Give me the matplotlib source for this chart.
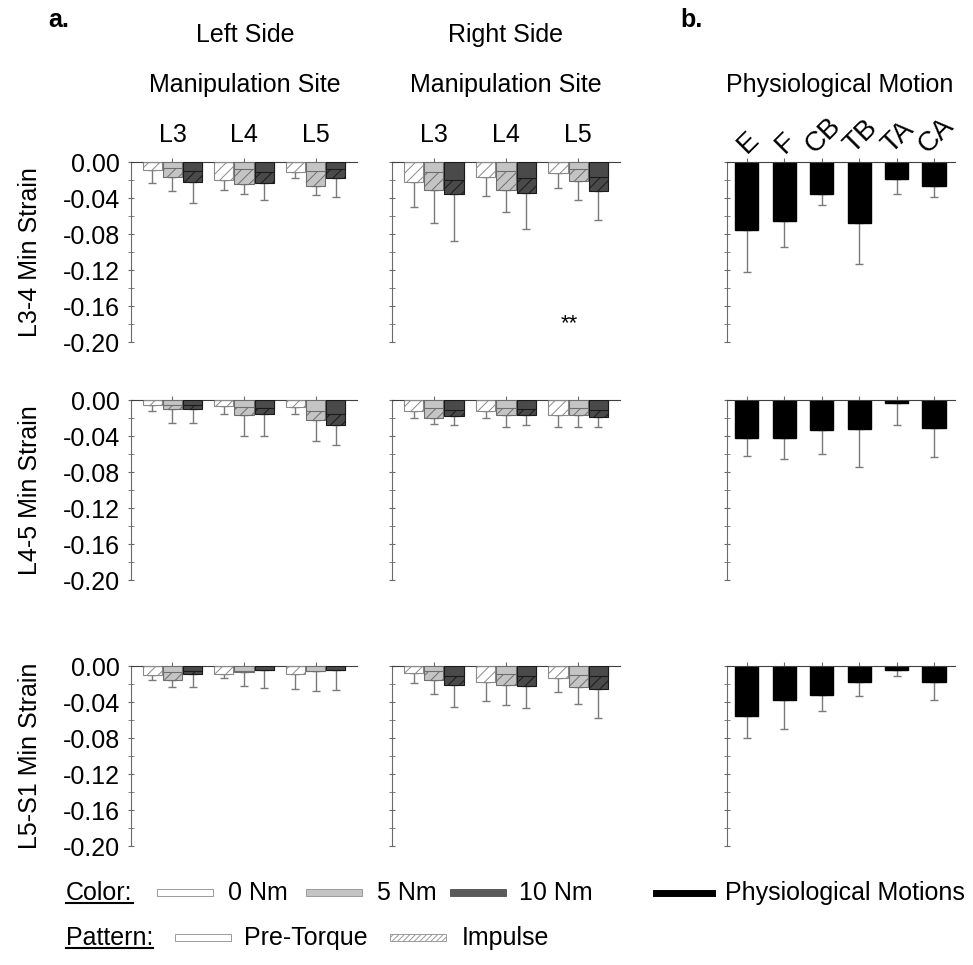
import numpy as np
import matplotlib.pyplot as plt
from matplotlib.patches import Rectangle
from matplotlib.lines import Line2D
from matplotlib.transforms import blended_transform_factory

plt.rcParams['font.family'] = ['Liberation Sans', 'DejaVu Sans']
plt.rcParams['hatch.linewidth'] = 0.7

sites = ['L3', 'L4', 'L5']
torques = ['0 Nm', '5 Nm', '10 Nm']
motions = ['E', 'F', 'CB', 'TB', 'TA', 'CA']
rows = ['L3-4 Min Strain', 'L4-5 Min Strain', 'L5-S1 Min Strain']

# impulse mean / sd / pre-torque mean, [row][site][torque]
imp_left = [
    [[-0.009, -0.017, -0.022], [-0.020, -0.024, -0.023], [-0.011, -0.027, -0.018]],
    [[-0.005, -0.010, -0.010], [-0.007, -0.017, -0.016], [-0.008, -0.022, -0.028]],
    [[-0.010, -0.016, -0.009], [-0.009, -0.007, -0.004], [-0.009, -0.006, -0.004]],
]
sd_left = [
    [[0.014, 0.015, 0.023], [0.011, 0.011, 0.019], [0.007, 0.010, 0.021]],
    [[0.007, 0.015, 0.015], [0.008, 0.023, 0.024], [0.007, 0.023, 0.022]],
    [[0.005, 0.007, 0.014], [0.004, 0.015, 0.020], [0.016, 0.022, 0.023]],
]
pre_left = [
    [[0.0, -0.007, -0.010], [0.0, -0.008, -0.011], [0.0, -0.010, -0.008]],
    [[0.0, -0.005, -0.006], [0.0, -0.008, -0.009], [0.0, -0.012, -0.015]],
    [[0.0, -0.007, -0.006], [0.0, -0.005, -0.004], [0.0, -0.006, -0.004]],
]
imp_right = [
    [[-0.022, -0.031, -0.036], [-0.017, -0.031, -0.034], [-0.012, -0.021, -0.032]],
    [[-0.012, -0.020, -0.018], [-0.012, -0.017, -0.017], [-0.017, -0.017, -0.019]],
    [[-0.008, -0.015, -0.021], [-0.018, -0.021, -0.022], [-0.013, -0.023, -0.025]],
]
sd_right = [
    [[0.028, 0.037, 0.052], [0.021, 0.024, 0.040], [0.017, 0.021, 0.032]],
    [[0.008, 0.007, 0.010], [0.008, 0.013, 0.011], [0.013, 0.013, 0.011]],
    [[0.011, 0.016, 0.024], [0.021, 0.022, 0.025], [0.016, 0.019, 0.033]],
]
pre_right = [
    [[0.0, -0.011, -0.020], [0.0, -0.010, -0.018], [0.0, -0.008, -0.017]],
    [[0.0, -0.009, -0.011], [0.0, -0.009, -0.010], [0.0, -0.009, -0.011]],
    [[0.0, -0.005, -0.011], [0.0, -0.009, -0.011], [0.0, -0.010, -0.011]],
]
phys_mean = [
    [-0.076, -0.065, -0.035, -0.068, -0.019, -0.027],
    [-0.042, -0.042, -0.033, -0.032, -0.003, -0.031],
    [-0.056, -0.038, -0.032, -0.018, -0.004, -0.018],
]
phys_sd = [
    [0.046, 0.029, 0.013, 0.045, 0.016, 0.012],
    [0.020, 0.024, 0.027, 0.042, 0.025, 0.032],
    [0.024, 0.032, 0.018, 0.015, 0.007, 0.020],
]

fills = ['white', '#c4c4c4', '#4a4a4a']
hatch_cols = ['#8a8a8a', '#6e6e6e', '#1a1a1a']
axc = '#6a6a6a'
errc = '#7a7a7a'

W, H = 973, 965
fig = plt.figure(figsize=(9.73, 9.65), dpi=100)


def px(x, y):
    return x / W, 1 - y / H


row_tops = [162, 400, 666]
row_h = 180
cols = [(131, 226), (392, 228), (727, 228)]
FS = 18


def style_axes(ax, labels):
    ax.set_ylim(-0.2, 0)
    ax.spines['right'].set_visible(False)
    ax.spines['bottom'].set_visible(False)
    ax.spines['left'].set_color(axc)
    ax.spines['top'].set_color('#404040')
    ax.xaxis.tick_top()
    ax.tick_params(axis='x', direction='out', length=3, color=axc, labeltop=False)
    ax.set_yticks(np.arange(-0.20, 0.001, 0.04))
    ax.set_yticks(np.arange(-0.20, 0.001, 0.02), minor=True)
    ax.tick_params(axis='y', which='both', direction='inout', length=4, color=axc,
                   labelsize=FS, labelleft=labels, pad=6)
    if labels:
        ax.set_yticklabels(['%.2f' % v for v in np.arange(-0.20, 0.001, 0.04)])


bw = 0.28
for r in range(3):
    for s in range(2):
        x0, w = cols[s]
        l, b = px(x0, row_tops[r] + row_h)
        ax = fig.add_axes([l, b, w / W, row_h / H])
        imp = imp_left[r] if s == 0 else imp_right[r]
        sd = sd_left[r] if s == 0 else sd_right[r]
        pre = pre_left[r] if s == 0 else pre_right[r]
        x = np.arange(len(sites))
        for t in range(3):
            xs = x + (t - 1) * bw
            vals = [imp[i][t] for i in range(3)]
            errs = [sd[i][t] for i in range(3)]
            pv = [pre[i][t] for i in range(3)]
            ax.errorbar(xs, vals, yerr=[errs, np.zeros(3)], fmt='none', ecolor=errc,
                        elinewidth=1, capsize=3, capthick=1, zorder=1)
            ax.bar(xs, vals, width=bw * 0.95, color=fills[t], edgecolor=hatch_cols[t],
                   hatch='///', linewidth=0.8, zorder=2)
            ax.bar(xs, pv, width=bw * 0.95, color=fills[t], edgecolor=hatch_cols[t],
                   linewidth=0.8, zorder=3)
        ax.set_xticks(x)
        ax.set_xlim(-0.58, 2.58)
        style_axes(ax, s == 0)
        if r == 0:
            tr = blended_transform_factory(ax.transData, ax.transAxes)
            for i, name in enumerate(sites):
                ax.text(i, 1.15, name, transform=tr, ha='center', va='center', fontsize=FS)
            if s == 1:
                ax.text(1.88, -0.18, '**', ha='center', va='center', fontsize=16)

    x0, w = cols[2]
    l, b = px(x0, row_tops[r] + row_h)
    ax = fig.add_axes([l, b, w / W, row_h / H])
    x = np.arange(len(motions))
    ax.errorbar(x, phys_mean[r], yerr=[phys_sd[r], np.zeros(6)], fmt='none', ecolor=errc,
                elinewidth=1, capsize=3, capthick=1, zorder=1)
    ax.bar(x, phys_mean[r], width=0.62, color='black', edgecolor='black', zorder=2)
    ax.set_xticks(x)
    ax.set_xlim(-0.53, 5.56)
    style_axes(ax, False)
    if r == 0:
        tr = blended_transform_factory(ax.transData, ax.transAxes)
        for i, name in enumerate(motions):
            ax.text(i + 0.05, 1.02, name, transform=tr, ha='center', va='bottom',
                    rotation=45, fontsize=20)

    fig.text(*px(30, row_tops[r] + row_h / 2), rows[r], rotation=90, ha='center',
             va='center', fontsize=FS)

# headers
fig.text(*px(48, 20), 'a.', fontsize=FS, fontweight='bold', ha='left', va='center')
fig.text(*px(680, 20), 'b.', fontsize=FS, fontweight='bold', ha='left', va='center')
fig.text(*px(245, 35), 'Left Side', fontsize=FS, ha='center', va='center')
fig.text(*px(245, 85), 'Manipulation Site', fontsize=FS, ha='center', va='center')
fig.text(*px(506, 35), 'Right Side', fontsize=FS, ha='center', va='center')
fig.text(*px(506, 85), 'Manipulation Site', fontsize=FS, ha='center', va='center')
fig.text(*px(840, 85), 'Physiological Motion', fontsize=FS, ha='center', va='center')

# legend
y1, y2 = 893, 938
t_color = fig.text(*px(66, y1), 'Color:', fontsize=FS, ha='left', va='center')
t_pat = fig.text(*px(66, y2), 'Pattern:', fontsize=FS, ha='left', va='center')


def key(x, y, fc, ec, hatch=None):
    l, b = px(x, y + 3)
    fig.add_artist(Rectangle((l, b), 56 / W, 7 / H, transform=fig.transFigure,
                             facecolor=fc, edgecolor=ec, hatch=hatch, linewidth=0.7))


key(157, y1, fills[0], '#9a9a9a')
fig.text(*px(228, y1), torques[0], fontsize=FS, ha='left', va='center')
key(306, y1, fills[1], '#9a9a9a')
fig.text(*px(377, y1), torques[1], fontsize=FS, ha='left', va='center')
key(450, y1, '#5a5a5a', '#5a5a5a')
fig.text(*px(519, y1), torques[2], fontsize=FS, ha='left', va='center')
fig.add_artist(Line2D([656 / W, 712 / W], [1 - y1 / H] * 2, color='black', lw=5,
                      transform=fig.transFigure))
fig.text(*px(725, y1), 'Physiological Motions', fontsize=FS, ha='left', va='center')
key(175, y2, 'white', '#9a9a9a')
fig.text(*px(244, y2), 'Pre-Torque', fontsize=FS, ha='left', va='center')
key(390, y2, 'white', '#9a9a9a', hatch='//////')
fig.text(*px(462, y2), 'Impulse', fontsize=FS, ha='left', va='center')

fig.canvas.draw()
inv = fig.transFigure.inverted()
for t in (t_color, t_pat):
    bb = t.get_window_extent()
    (xa, ya), (xb, yb) = inv.transform([[bb.x0, bb.y0], [bb.x1, bb.y0]])
    fig.add_artist(Line2D([xa, xb], [ya + 0.002, ya + 0.002], color='black', lw=1.5,
                          transform=fig.transFigure))

fig.savefig('out.png', dpi=100)
